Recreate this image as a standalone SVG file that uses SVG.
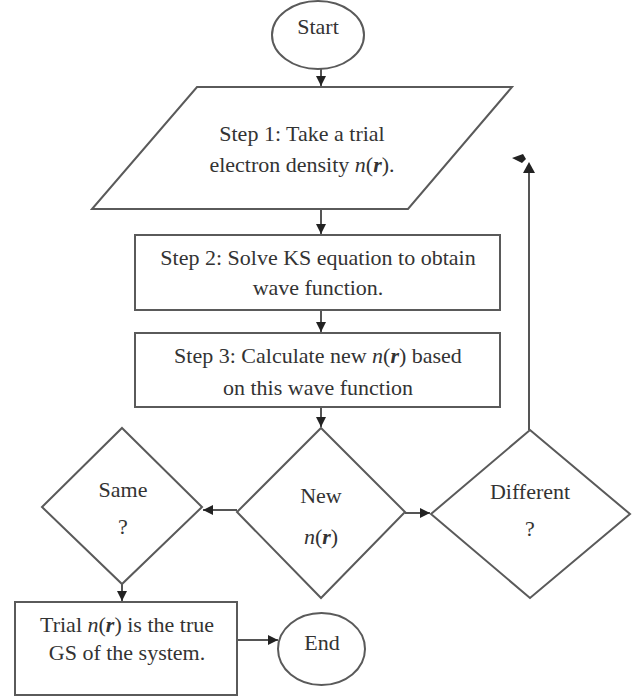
<svg xmlns="http://www.w3.org/2000/svg" width="634" height="697" viewBox="0 0 634 697">
<defs>
<style>
.shape{fill:#fff;stroke:#5a5a5a;stroke-width:2}
.conn{fill:none;stroke:#555;stroke-width:2}
.head{fill:#222}
</style>
<marker id="arr" markerUnits="userSpaceOnUse" markerWidth="12" markerHeight="12" refX="10" refY="5" orient="auto">
<path d="M0,0 L10,5 L0,10 Z" fill="#222"/>
</marker>
</defs>
<rect width="634" height="697" fill="#fff"/>

<g id="connectors">
<line class="conn" x1="321" y1="69" x2="321" y2="86" marker-end="url(#arr)"/>
<line class="conn" x1="321" y1="209" x2="321" y2="234" marker-end="url(#arr)"/>
<line class="conn" x1="321" y1="310" x2="321" y2="332" marker-end="url(#arr)"/>
<line class="conn" x1="321" y1="407" x2="321" y2="427" marker-end="url(#arr)"/>
<line class="conn" x1="237" y1="510" x2="203" y2="510" marker-end="url(#arr)"/>
<line class="conn" x1="405" y1="513" x2="430" y2="513" marker-end="url(#arr)"/>
<line class="conn" x1="122" y1="584" x2="122" y2="601" marker-end="url(#arr)"/>
<line class="conn" x1="237" y1="640" x2="278" y2="640" marker-end="url(#arr)"/>
<line class="conn" x1="529" y1="430" x2="529" y2="170"/>
<path class="head" d="M523,173 L535,173 L529,162 Z"/>
<path class="head" d="M523,154 L512,158 L522,163 L526,159 Z"/>
</g>

<g font-family="Liberation Serif" font-size="22" fill="#333" text-anchor="middle">
<g id="start">
<ellipse class="shape" cx="318" cy="35" rx="46" ry="34"/>
<text x="318" y="34">Start</text>
</g>

<g id="step1">
<polygon class="shape" points="197,87 512,87 408,209 92,209"/>
<text x="302" y="141">Step 1: Take a trial</text>
<text x="302" y="172">electron density <tspan font-style="italic">n</tspan>(<tspan font-style="italic" font-weight="bold">r</tspan>).</text>
</g>

<g id="step2">
<rect class="shape" x="135" y="235" width="365" height="75"/>
<text x="318" y="265">Step 2: Solve KS equation to obtain</text>
<text x="318" y="295">wave function.</text>
</g>

<g id="step3">
<rect class="shape" x="135" y="333" width="365" height="74"/>
<text x="318" y="363">Step 3: Calculate new <tspan font-style="italic">n</tspan>(<tspan font-style="italic" font-weight="bold">r</tspan>) based</text>
<text x="318" y="395">on this wave function</text>
</g>

<g id="new">
<polygon class="shape" points="321,428 405,512 321,598 237,512"/>
<text x="321" y="503">New</text>
<text x="321" y="544"><tspan font-style="italic">n</tspan>(<tspan font-style="italic" font-weight="bold">r</tspan>)</text>
</g>

<g id="same">
<polygon class="shape" points="122,428 202,507 122,584 42,507"/>
<text x="123" y="497">Same</text>
<text x="123" y="534">?</text>
</g>

<g id="different">
<polygon class="shape" points="530,430 630,514 530,598 431,514"/>
<text x="530" y="499">Different</text>
<text x="530" y="536">?</text>
</g>

<g id="result">
<rect class="shape" x="15" y="602" width="222" height="93"/>
<text x="127" y="632">Trial <tspan font-style="italic">n</tspan>(<tspan font-style="italic" font-weight="bold">r</tspan>) is the true</text>
<text x="127" y="660">GS of the system.</text>
</g>

<g id="end">
<ellipse class="shape" cx="321.5" cy="649" rx="43.5" ry="36"/>
<text x="322" y="650">End</text>
</g>
</g>
</svg>
